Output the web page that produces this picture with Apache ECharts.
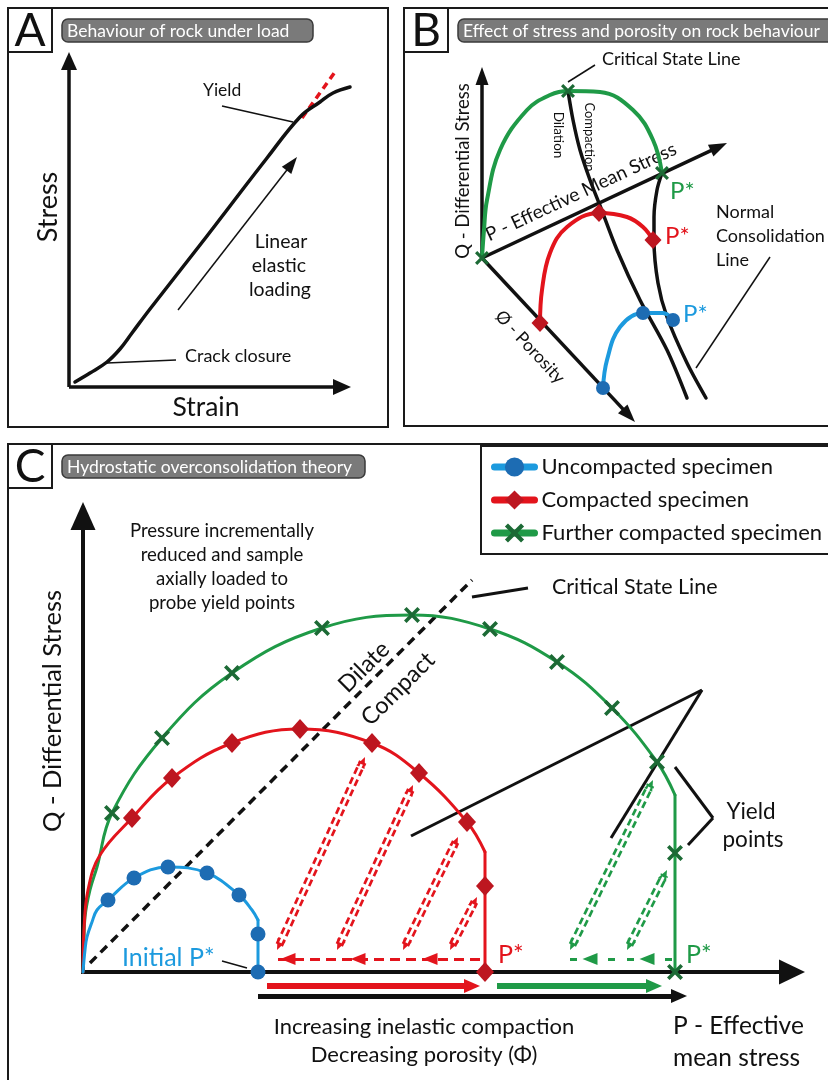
<!DOCTYPE html>
<html>
<head>
<meta charset="utf-8">
<title>Rock yield and hydrostatic overconsolidation</title>
<script src="https://cdn.jsdelivr.net/npm/echarts@6/dist/echarts.min.js"></script>
<style>
  html, body { margin: 0; padding: 0; background: #ffffff; }
  #chart { width: 828px; height: 1080px; }
</style>
</head>
<body>
<div id="chart"></div>
<script>
// ---------- Panel A: stress–strain curve (units: strain / stress, origin at axis corner) ----------
const aAxisStress = [[0, 0], [0, 335]];
const aAxisStrain = [[0, 0], [282, 0]];
const aStressStrain = [[6, 5], [21, 14], [38, 25], [51, 38], [63, 54], [81, 78], [131, 142], [198, 229], [231, 270], [251, 285], [264, 294], [281, 300]];
const aYieldTangent = [[233, 269], [266, 315]];
const aElasticArrow = [[109, 77], [228, 230]];
const aYieldLeader = [[153, 281], [224, 265]];
const aCrackLeader = [[38, 24], [107, 27]];

// ---------- Panel B: P–Q–porosity space ----------
const bAxisQ = [[0, 0], [0, 191]];
const bAxisP = [[0, 0], [245, 115]];
const bAxisPhi = [[0, 0], [153, -164]];
const bFurther = [[0, 0], [2, 28], [5, 58], [18, 108], [45, 148], [68, 163], [86, 167], [118, 166], [151, 148], [171, 118], [180, 85]];
const bFurtherPoints = [[0, 0], [86, 167], [180, 85]];
const bCompacted = [[58, -65], [60, -32], [68, 5], [85, 31], [117, 45], [145, 41], [161, 31], [171, 18]];
const bCompactedPoints = [[58, -65], [117, 45], [171, 18]];
const bUncompacted = [[121, -130], [125, -102], [138, -69], [161, -55], [181, -55], [191, -62]];
const bUncompactedPoints = [[121, -130], [161, -55], [191, -62]];
const bCriticalState = [[86, 167], [91, 138], [98, 108], [108, 78], [117, 55], [135, 8], [158, -42], [185, -92], [205, -140]];
const bNormalConsolidation = [[180, 85], [175, 68], [172, 41], [172, 18], [176, -25], [185, -59], [205, -105], [224, -140]];
const bCriticalLeader = [[86, 176], [113, 193]];
const bNclLeader = [[288, 1], [214, -110]];

// ---------- Panel C: yield surfaces in P–Q space ----------
const cAxisQ = [[0, -2], [0, 470]];
const cAxisP = [[-2, 0], [722, 0]];
const cUncompacted = [[0, 0], [2, 22], [4, 35], [9, 50], [14, 62], [25, 72], [51, 94], [85, 105], [124, 99], [156, 77], [169, 62], [175, 52]];
const cUncompactedTail = [[175, 52], [175, 0]];
const cUncompactedPoints = [[25, 72], [51, 94], [85, 105], [124, 99], [156, 77], [175, 38], [175, 0]];
const cCompacted = [[0, 0], [1, 42], [5, 82], [17, 117], [49, 154], [89, 194], [149, 229], [217, 243], [289, 229], [336, 199], [384, 150], [402, 120]];
const cCompactedTail = [[402, 120], [402, 0]];
const cCompactedPoints = [[49, 154], [89, 194], [149, 229], [217, 243], [289, 229], [336, 199], [384, 150], [402, 86], [402, 0]];
const cFurther = [[0, 0], [1, 32], [2, 55], [7, 82], [14, 105], [29, 159], [79, 234], [149, 299], [239, 344], [329, 357], [407, 343], [474, 310], [529, 264], [574, 210], [592, 177]];
const cFurtherTail = [[592, 177], [592, 0]];
const cFurtherPoints = [[29, 159], [79, 234], [149, 299], [239, 344], [329, 357], [407, 343], [474, 310], [529, 264], [574, 210], [592, 119], [592, 0]];
const cCriticalState = [[7, 9], [389, 392]];
const cCriticalLeader = [[389, 375], [445, 384]];
const cRedReturn = [[397, 13], [192, 13]];
const cRedReturnHeads = [[205, 13], [275, 13], [347, 13]];
const cRedProbes = [[[194, 22], [282, 215]], [[254, 22], [330, 187]], [[320, 22], [375, 135]], [[367, 22], [394, 75]]];
const cGreenReturn = [[589, 13], [484, 13]];
const cGreenReturnHeads = [[507, 13], [564, 13]];
const cGreenProbes = [[[487, 22], [570, 192]], [[544, 22], [584, 102]]];
const cYieldLeaders = [[[619, 282], [328, 136]], [[619, 282], [528, 134]]];
const cYieldBracket = [[592, 205], [630, 154], [605, 127]];
const cInitialLeader = [[139, 11], [164, 4]];
const cRedPath = [[184, -14], [397, -14]];
const cGreenPath = [[414, -14], [579, -14]];
const cTotalPath = [[175, -24], [604, -24]];

// ---------- legend names ----------
const specimenNames = ['Uncompacted specimen', 'Compacted specimen', 'Further compacted specimen'];

// ---------- colours ----------
const BLUE_LINE = '#1c9ade', BLUE_MARK = '#1d6cb3';
const RED_LINE = '#e3141c', RED_MARK = '#bd1620';
const GREEN_LINE = '#1f9a47', GREEN_MARK = '#1c6a35';
const INK = '#111111';
const FONT = 'Lato, "Open Sans", sans-serif';
const X_MARK = 'path://M0,1.6L1.6,0L5,3.4L8.4,0L10,1.6L6.6,5L10,8.4L8.4,10L5,6.6L1.6,10L0,8.4L3.4,5Z';

// An arrow from p0 whose head tip lands on p1 (units are equal on both axes of each grid).
function arrow(p0, p1, color, width, head, opts) {
  opts = opts || {};
  const dx = p1[0] - p0[0], dy = p1[1] - p0[1];
  const len = Math.hypot(dx, dy), ux = dx / len, uy = dy / len;
  const h = head ? head[1] : 0;
  const end = head ? [p1[0] - ux * h / 2, p1[1] - uy * h / 2] : p1;
  const start = head && opts.both ? [p0[0] + ux * h / 2, p0[1] + uy * h / 2] : p0;
  const item = {
    coords: [start, end],
    lineStyle: { color: color, width: width, type: opts.dash || 'solid', opacity: 1, cap: 'butt' }
  };
  if (head) {
    item.symbol = [opts.both ? 'triangle' : 'none', 'triangle'];
    item.symbolSize = [head, head];
  } else {
    item.symbol = ['none', 'none'];
  }
  return item;
}
function shrink(seg, d) {
  const [p0, p1] = seg;
  const dx = p1[0] - p0[0], dy = p1[1] - p0[1];
  const len = Math.hypot(dx, dy), ux = dx / len, uy = dy / len;
  return [[p0[0] + ux * d, p0[1] + uy * d], [p1[0] - ux * d, p1[1] - uy * d]];
}
function polyToSegments(pts) {
  const out = [];
  for (let i = 1; i < pts.length; i++) out.push([pts[i - 1], pts[i]]);
  return out;
}

function linesSeries(gridIndex, items, z) {
  return {
    type: 'lines', coordinateSystem: 'cartesian2d',
    xAxisIndex: gridIndex, yAxisIndex: gridIndex,
    polyline: false, silent: true, z: z || 3,
    lineStyle: { opacity: 1 },
    data: items
  };
}
function curve(gridIndex, data, color, width, opts) {
  opts = opts || {};
  return Object.assign({
    type: 'line', xAxisIndex: gridIndex, yAxisIndex: gridIndex,
    data: data, smooth: opts.smooth == null ? 0.35 : opts.smooth,
    showSymbol: false, silent: true, z: opts.z || 3,
    lineStyle: { color: color, width: width, cap: 'round', join: 'round' },
    itemStyle: { color: color }
  }, opts.extra || {});
}
function markers(gridIndex, data, symbol, size, color, z) {
  return {
    type: 'scatter', xAxisIndex: gridIndex, yAxisIndex: gridIndex,
    data: data, symbol: symbol, symbolSize: size, silent: true, z: z || 5,
    itemStyle: { color: color, opacity: 1 }
  };
}

// ---------- text helpers (layout only) ----------
function text(str, x, y, size, o) {
  o = o || {};
  const align = o.align || 'left';
  return {
    type: 'text', x: x, y: y, rotation: o.rot || 0, z: o.z || 1, silent: true,
    style: {
      text: str, font: (o.weight || 'normal') + ' ' + size + 'px ' + FONT,
      fill: o.color || INK, align: align, textAlign: align,
      verticalAlign: 'middle', textVerticalAlign: 'middle'
    }
  };
}
function frame(x, y, w, h) {
  return { type: 'rect', shape: { x: x, y: y, width: w, height: h }, silent: true, z: 0,
    style: { fill: 'none', stroke: '#1a1a1a', lineWidth: 2 } };
}
function pill(x, y, w, h, str) {
  return [
    { type: 'rect', shape: { x: x, y: y, width: w, height: h, r: 6 }, silent: true, z: 0,
      style: { fill: '#7a7a7a', stroke: '#3a3a3a', lineWidth: 1.5 } },
    text(str, x + 5, y + h / 2 + 0.5, 17.5, { color: '#ffffff' })
  ];
}
const deg = Math.PI / 180;

const graphics = [].concat(
  // frames
  frame(8, 8, 380, 419), frame(8, 8, 44, 44),
  frame(404, 8, 440, 418), frame(404, 8, 44, 44),
  frame(8, 444, 840, 660), frame(8, 444, 44, 44),
  text('A', 30, 31, 46, { align: 'center' }),
  text('B', 426, 31, 46, { align: 'center' }),
  text('C', 30, 467, 46, { align: 'center' }),
  pill(62, 19, 251, 23, 'Behaviour of rock under load'),
  pill(458, 19, 390, 23, 'Effect of stress and porosity on rock behaviour'),
  pill(62, 455, 303, 23, 'Hydrostatic overconsolidation theory'),

  // panel A
  text('Stress', 48, 207, 27, { align: 'center', rot: 90 * deg }),
  text('Strain', 206, 407, 26.5, { align: 'center' }),
  text('Yield', 203, 90, 17.5),
  text('Linear', 281, 242, 19.5, { align: 'center' }),
  text('elastic', 279, 266, 19.5, { align: 'center' }),
  text('loading', 280, 290, 19.5, { align: 'center' }),
  text('Crack closure', 185, 356, 18),

  // panel B
  text('Critical State Line', 602, 59, 18),
  text('Normal', 716, 212, 18),
  text('Consolidation', 716, 236, 18),
  text('Line', 716, 260, 18),
  text('Dilation', 558, 135, 13.5, { align: 'center', rot: -90 * deg }),
  text('Compaction', 589, 137, 13, { align: 'center', rot: -90 * deg }),
  text('P - Effective Mean Stress', 581, 192, 19, { align: 'center', rot: 25 * deg }),
  text('Q - Differential Stress', 463, 171, 18.5, { align: 'center', rot: 90 * deg }),
  text('\u00D8 - Porosity', 530, 347, 17.5, { align: 'center', rot: -47 * deg }),
  text('P*', 670, 191, 24, { color: GREEN_LINE }),
  text('P*', 665, 236, 24, { color: RED_LINE }),
  text('P*', 683, 314, 24, { color: BLUE_LINE }),

  // panel C
  text('Q - Differential Stress', 53, 711, 25.5, { align: 'center', rot: 90 * deg }),
  text('Pressure incrementally', 222, 531, 18.6, { align: 'center' }),
  text('reduced and sample', 222, 555, 18.6, { align: 'center' }),
  text('axially loaded to', 222, 579, 18.6, { align: 'center' }),
  text('probe yield points', 222, 603, 18.6, { align: 'center' }),
  text('Critical State Line', 552, 587, 21.5),
  text('Dilate', 364, 667, 23.5, { align: 'center', rot: 45 * deg }),
  text('Compact', 398, 689, 23.5, { align: 'center', rot: 45 * deg }),
  text('Initial P*', 122, 958, 25, { color: BLUE_LINE }),
  text('P*', 498, 955, 25, { color: RED_LINE }),
  text('P*', 686, 955, 25, { color: GREEN_LINE }),
  text('Yield', 751, 812, 22.5, { align: 'center' }),
  text('points', 753, 840, 22.5, { align: 'center' }),
  text('Increasing inelastic compaction', 424, 1027, 22, { align: 'center' }),
  text('Decreasing porosity (\u03A6)', 424, 1055, 22, { align: 'center' }),
  text('P - Effective', 673, 1026, 24.5),
  text('mean stress', 673, 1058, 24.5)
);

// ---------- series ----------
const series = [];

// Panel A (grid 0)
series.push(linesSeries(0, [
  arrow(aAxisStress[0], aAxisStress[1], INK, 3.5, [16, 18]),
  arrow(aAxisStrain[0], aAxisStrain[1], INK, 3.5, [16, 18]),
  arrow(aElasticArrow[0], aElasticArrow[1], INK, 1.5, [12, 17]),
  arrow(aYieldLeader[0], aYieldLeader[1], INK, 1.5),
  arrow(aCrackLeader[0], aCrackLeader[1], INK, 1.5),
  arrow(aYieldTangent[0], aYieldTangent[1], RED_LINE, 3.5, null, { dash: [7, 5] })
]));
series.push(curve(0, aStressStrain, INK, 3.5, { smooth: 0.4 }));

// Panel B (grid 1)
series.push(linesSeries(1, [
  arrow(bAxisQ[0], bAxisQ[1], INK, 3.5, [13, 18]),
  arrow(bAxisP[0], bAxisP[1], INK, 3.5, [13, 18]),
  arrow(bAxisPhi[0], bAxisPhi[1], INK, 3.5, [13, 18]),
  arrow(bCriticalLeader[0], bCriticalLeader[1], INK, 1.5),
  arrow(bNclLeader[0], bNclLeader[1], INK, 1.5)
]));
series.push(curve(1, bCriticalState, INK, 3.5, { smooth: 0.3 }));
series.push(curve(1, bNormalConsolidation, INK, 3.5, { smooth: 0.3 }));
series.push(curve(1, bFurther, GREEN_LINE, 4, { smooth: 0.4 }));
series.push(curve(1, bCompacted, RED_LINE, 4, { smooth: 0.4 }));
series.push(curve(1, bUncompacted, BLUE_LINE, 4, { smooth: 0.4 }));
series.push(markers(1, bFurtherPoints, X_MARK, 14, GREEN_MARK));
series.push(markers(1, bCompactedPoints, 'diamond', [17, 18], RED_MARK));
series.push(markers(1, bUncompactedPoints, 'circle', 14, BLUE_MARK));

// Panel C (grid 2)
const redProbeItems = cRedProbes.map(s => arrow(s[0], s[1], RED_LINE, 8, [9, 11], { both: true, dash: [7, 4] }));
const greenProbeItems = cGreenProbes.map(s => arrow(s[0], s[1], GREEN_LINE, 8, [9, 11], { both: true, dash: [7, 4] }));
const probeGaps = cRedProbes.concat(cGreenProbes).map(s => {
  const t = shrink(s, 8);
  return arrow(t[0], t[1], '#ffffff', 2.6);
});
series.push(linesSeries(2, [
  arrow(cAxisQ[0], cAxisQ[1], INK, 4, [25, 28]),
  arrow(cAxisP[0], cAxisP[1], INK, 4, [25, 26]),
  arrow(cCriticalState[0], cCriticalState[1], INK, 3.5, null, { dash: [9, 6] }),
  arrow(cCriticalLeader[0], cCriticalLeader[1], INK, 3),
  arrow(cInitialLeader[0], cInitialLeader[1], INK, 1.5),
  arrow(cYieldLeaders[0][0], cYieldLeaders[0][1], INK, 3),
  arrow(cYieldLeaders[1][0], cYieldLeaders[1][1], INK, 3)
].concat(polyToSegments(cYieldBracket).map(s => arrow(s[0], s[1], INK, 3))), 2));
series.push(linesSeries(2, [
  arrow(cRedReturn[0], cRedReturn[1], RED_LINE, 3, null, { dash: [10, 6] }),
  arrow(cGreenReturn[0], cGreenReturn[1], GREEN_LINE, 3, null, { dash: [7, 12] }),
  arrow(cRedPath[0], cRedPath[1], RED_LINE, 6, [14, 16]),
  arrow(cGreenPath[0], cGreenPath[1], GREEN_LINE, 6, [14, 16]),
  arrow(cTotalPath[0], cTotalPath[1], INK, 5, [14, 16])
].concat(redProbeItems, greenProbeItems), 3));
series.push(linesSeries(2, probeGaps, 4));
series.push(markers(2, cRedReturnHeads, 'triangle', [12, 15], RED_LINE, 4));
series.push(markers(2, cGreenReturnHeads, 'triangle', [12, 15], GREEN_LINE, 4));
series[series.length - 1].symbolRotate = 90;
series[series.length - 2].symbolRotate = 90;

series.push(curve(2, cFurther, GREEN_LINE, 3, { smooth: 0.4, extra: { name: specimenNames[2], symbol: X_MARK } }));
series.push(curve(2, cFurtherTail, GREEN_LINE, 3, { smooth: false }));
series.push(curve(2, cCompacted, RED_LINE, 3, { smooth: 0.4, extra: { name: specimenNames[1], symbol: 'diamond' } }));
series.push(curve(2, cCompactedTail, RED_LINE, 3, { smooth: false }));
series.push(curve(2, cUncompacted, BLUE_LINE, 3, { smooth: 0.4, extra: { name: specimenNames[0], symbol: 'circle' } }));
series.push(curve(2, cUncompactedTail, BLUE_LINE, 3, { smooth: false }));
series.push(markers(2, cFurtherPoints, X_MARK, 16, GREEN_MARK, 6));
series.push(markers(2, cCompactedPoints, 'diamond', [18, 20], RED_MARK, 6));
series.push(markers(2, cUncompactedPoints, 'circle', 15, BLUE_MARK, 6));

const hiddenAxis = (min, max, gridIndex) => ({
  type: 'value', min: min, max: max, gridIndex: gridIndex, show: false,
  splitLine: { show: false }
});

const option = {
  animation: false,
  backgroundColor: '#ffffff',
  grid: [
    { left: 8, top: 8, width: 380, height: 419 },
    { left: 404, top: 8, width: 424, height: 418 },
    { left: 8, top: 444, width: 820, height: 636 }
  ],
  xAxis: [hiddenAxis(-61, 319, 0), hiddenAxis(-78, 346, 1), hiddenAxis(-75, 745, 2)],
  yAxis: [hiddenAxis(-40, 379, 0), hiddenAxis(-168, 250, 1), hiddenAxis(-108, 528, 2)],
  legend: {
    orient: 'vertical', left: 481, top: 446,
    selectedMode: false,
    itemWidth: 40, itemHeight: 24, itemGap: 11,
    padding: [10, 60, 10, 10],
    borderColor: '#1a1a1a', borderWidth: 2, backgroundColor: '#ffffff',
    textStyle: { fontFamily: FONT, fontSize: 22, color: INK, padding: [0, 0, 0, 2] },
    data: [
      { name: specimenNames[0], itemStyle: { color: BLUE_MARK, borderWidth: 0 }, lineStyle: { color: BLUE_LINE, width: 7 } },
      { name: specimenNames[1], itemStyle: { color: RED_MARK, borderWidth: 0 }, lineStyle: { color: RED_LINE, width: 7 } },
      { name: specimenNames[2], itemStyle: { color: GREEN_MARK, borderWidth: 0 }, lineStyle: { color: GREEN_LINE, width: 7 } }
    ]
  },
  graphic: graphics,
  series: series
};

const chart = echarts.init(document.getElementById('chart'), null, { renderer: 'canvas' });
chart.setOption(option);
</script>
</body>
</html>
